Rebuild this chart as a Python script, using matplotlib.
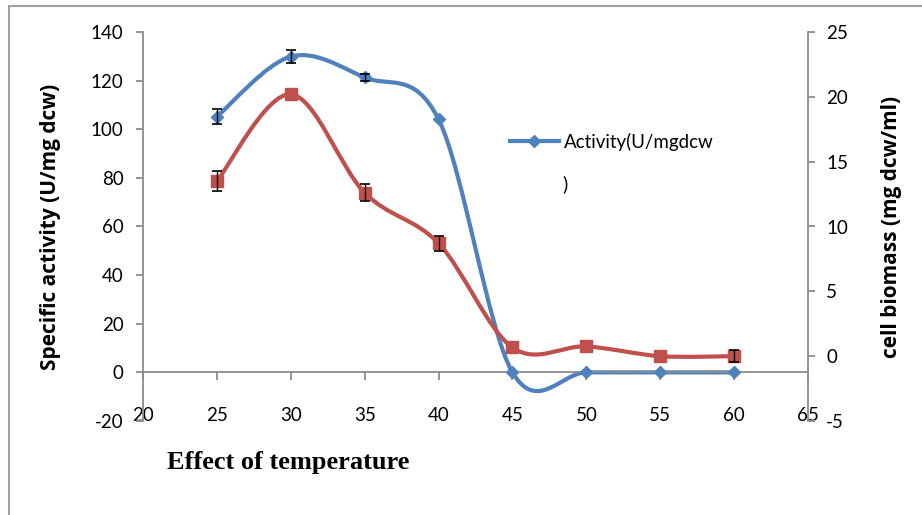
import matplotlib.pyplot as plt
from matplotlib.path import Path
from matplotlib.patches import PathPatch
from matplotlib.lines import Line2D

# temperature (deg C)
temp = [25, 30, 35, 40, 45, 50, 55, 60]
# specific activity, U/mg dcw (left axis)
activity = [105.2, 129.9, 121.3, 104.1, 0, 0, 0, 0]
activity_err = [3.0, 2.5, 1.5, 0, 0, 0, 0, 0]
# cell biomass, mg dcw/ml (right axis)
biomass = [13.5, 20.2, 12.6, 8.7, 0.67, 0.75, 0.0, 0.0]
biomass_err = [0.75, 0, 0.65, 0.6, 0, 0, 0, 0.45]

xticks = [20, 25, 30, 35, 40, 45, 50, 55, 60, 65]
left_ticks = [-20, 0, 20, 40, 60, 80, 100, 120, 140]
right_ticks = [-5, 0, 5, 10, 15, 20, 25]

blue = '#4F81BD'
red = '#C0504D'
grey = '#8C8C8C'

plt.rcParams['font.family'] = ['Lato', 'DejaVu Sans']
plt.rcParams['axes.unicode_minus'] = False


def smooth_path(x, y):
    # excel-style smoothed line as cubic bezier segments
    n = len(x)
    verts = [(x[0], y[0])]
    codes = [Path.MOVETO]
    for i in range(n - 1):
        xa, ya = (x[i - 1], y[i - 1]) if i > 0 else (x[i], y[i])
        xb, yb = (x[i + 2], y[i + 2]) if i + 2 < n else (x[i + 1], y[i + 1])
        c1 = (x[i] + (x[i + 1] - xa) / 6, y[i] + (y[i + 1] - ya) / 6)
        c2 = (x[i + 1] - (xb - x[i]) / 6, y[i + 1] - (yb - y[i]) / 6)
        verts += [c1, c2, (x[i + 1], y[i + 1])]
        codes += [Path.CURVE4] * 3
    return Path(verts, codes)


def errbars(axis, x, y, err):
    xs = [a for a, e in zip(x, err) if e > 0]
    ys = [b for b, e in zip(y, err) if e > 0]
    es = [e for e in err if e > 0]
    axis.errorbar(xs, ys, yerr=es, fmt='none', ecolor='black',
                  elinewidth=1, capsize=3.5, capthick=1.2, zorder=4)


fig = plt.figure(figsize=(9.22, 5.15), dpi=100)
ax = fig.add_axes([143 / 922, 1 - 421 / 515, 665 / 922, 389 / 515])
ax2 = ax.twinx()

# activity on left axis
ax.add_patch(PathPatch(smooth_path(temp, activity), fill=False, edgecolor=blue,
                       lw=3.0, capstyle='round', zorder=2))
ax.plot(temp, activity, linestyle='none', marker='D', ms=6.5, color=blue, zorder=3)
errbars(ax, temp, activity, activity_err)

# biomass on right axis
ax2.add_patch(PathPatch(smooth_path(temp, biomass), fill=False, edgecolor=red,
                        lw=3.0, capstyle='round', zorder=2))
ax2.plot(temp, biomass, linestyle='none', marker='s', ms=9, color=red, zorder=3)
errbars(ax2, temp, biomass, biomass_err)

ax.set_xlim(20, 65)
ax.set_ylim(-20, 140)
ax2.set_ylim(-5, 25)
ax.set_xticks(xticks)
ax.set_yticks(left_ticks)
ax2.set_yticks(right_ticks)

for s in ['top', 'right']:
    ax.spines[s].set_visible(False)
for s in ['top', 'left', 'bottom']:
    ax2.spines[s].set_visible(False)
ax.spines['bottom'].set_position(('data', 0))
for sp in [ax.spines['left'], ax.spines['bottom'], ax2.spines['right']]:
    sp.set_color(grey)
    sp.set_linewidth(1.3)

ax.tick_params(axis='x', direction='out', length=6, width=1.3, color=grey,
               labelsize=13.5, pad=19)
ax.tick_params(axis='y', direction='out', length=5, width=1.3, color=grey,
               labelsize=13.5, pad=9)
ax2.tick_params(axis='y', direction='out', length=5, width=1.3, color=grey,
                labelsize=13.5, pad=8)

ax.set_ylabel('Specific activity (U/mg dcw)', fontsize=15, fontweight='bold',
              family='Open Sans')
ax.yaxis.set_label_coords(-0.123, 0.5)
ax2.set_ylabel('cell biomass (mg dcw/ml)', fontsize=15, fontweight='bold',
               family='Open Sans')
ax2.yaxis.set_label_coords(1.11, 0.5)

fig.text(288 / 922, 1 - 463 / 515, 'Effect of temperature', ha='center', va='center',
         fontsize=19, fontweight='bold', family='Liberation Serif')

# legend for the activity series only
leg = ax.legend([Line2D([], [], color=blue, lw=3, marker='D', ms=6.5)],
                ['Activity(U/mgdcw'], loc='upper left',
                bbox_to_anchor=(510 / 922, 1 - 133 / 515), bbox_transform=fig.transFigure,
                frameon=False, fontsize=13.5, handlelength=2.6, handletextpad=0.25,
                borderaxespad=0, borderpad=0)
fig.text(562 / 922, 1 - 184 / 515, ')', ha='left', va='center', fontsize=14)

# outer frame
fig.add_artist(Line2D([9 / 922, 1], [1 - 6 / 515, 1 - 6 / 515], color='#A0A0A0',
                      lw=1.5, transform=fig.transFigure))
fig.add_artist(Line2D([9 / 922, 9 / 922], [0, 1 - 6 / 515], color='#A0A0A0',
                      lw=1.5, transform=fig.transFigure))

fig.savefig('out.png', dpi=100)
